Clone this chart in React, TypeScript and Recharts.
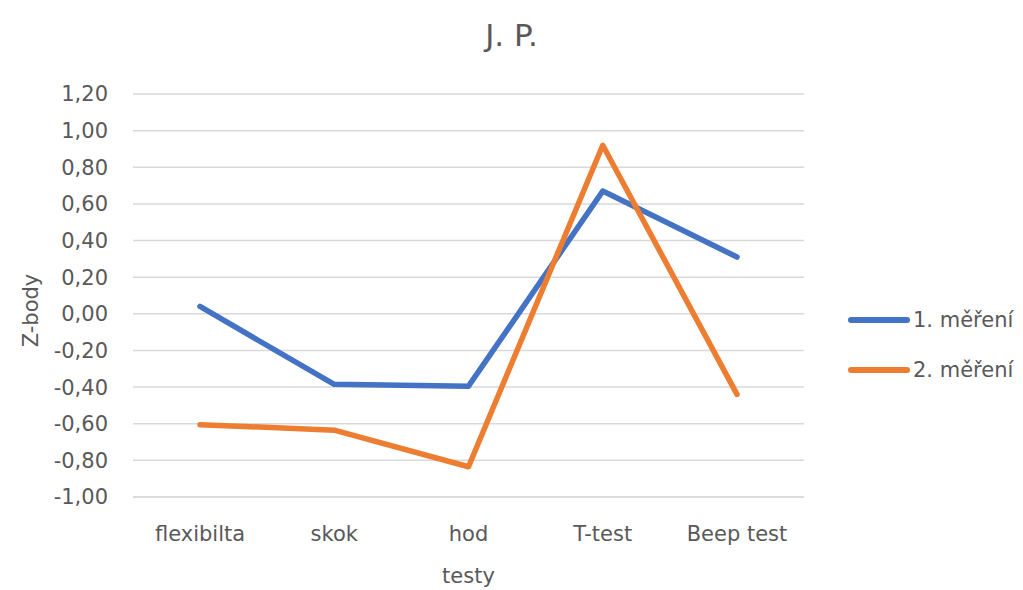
import React from 'react';
import { LineChart, Line, XAxis, YAxis, CartesianGrid, Legend } from 'recharts';

// Test categories (x axis)
const categories = ['flexibilta', 'skok', 'hod', 'T-test', 'Beep test'];
// Z-scores of the first and second measurement
const mereni1 = [0.04, -0.385, -0.395, 0.67, 0.31];
const mereni2 = [-0.605, -0.635, -0.835, 0.92, -0.44];
// Y axis ticks
const yTicks = [-1.0, -0.8, -0.6, -0.4, -0.2, 0.0, 0.2, 0.4, 0.6, 0.8, 1.0, 1.2];

const seriesNames = ['1. měření', '2. měření'];
const seriesColors = ['#4472C4', '#ED7D31'];

const data = categories.map((name, i) => ({
  name,
  m1: mereni1[i],
  m2: mereni2[i],
}));

const FONT = '"DejaVu Sans", sans-serif';
const TEXT = '#595959';

const fmt = (v: number) => v.toFixed(2).replace('.', ',');

const LegendContent = (props: any) => {
  const payload = props.payload || [];
  return (
    <div style={{ fontFamily: FONT, fontSize: 21, color: TEXT }}>
      {payload.map((p: any, i: number) => (
        <div
          key={i}
          style={{ display: 'flex', alignItems: 'center', height: 40, marginBottom: i === 0 ? 10 : 0 }}
        >
          <svg width={62} height={8} style={{ display: 'block' }}>
            <line x1={3} y1={4} x2={59} y2={4} stroke={p.color} strokeWidth={6} strokeLinecap="round" />
          </svg>
          <span style={{ marginLeft: 3, whiteSpace: 'nowrap' }}>{p.value}</span>
        </div>
      ))}
    </div>
  );
};

export default function App() {
  return (
    <div style={{ position: 'absolute', left: 0, top: 0, width: 1023, height: 590, background: '#fff' }}>
      <div
        style={{
          position: 'absolute',
          left: 0,
          top: 17,
          width: 1023,
          textAlign: 'center',
          fontFamily: FONT,
          fontSize: 31,
          color: TEXT,
          lineHeight: 'normal',
        }}
      >
        J. P.
      </div>
      <LineChart
        width={1023}
        height={590}
        data={data}
        margin={{ top: 94, right: 219, bottom: 3, left: 10 }}
      >
        <CartesianGrid vertical={false} stroke="#d9d9d9" strokeWidth={1.5} />
        <XAxis
          dataKey="name"
          padding={{ left: 67, right: 67 }}
          height={90}
          axisLine={{ stroke: '#d9d9d9', strokeWidth: 1.5 }}
          tickLine={false}
          tickMargin={23}
          tick={{ fill: TEXT, fontSize: 21, fontFamily: FONT }}
          label={{ value: 'testy', position: 'insideBottom', offset: 4, fill: TEXT, fontSize: 21, fontFamily: FONT }}
        />
        <YAxis
          width={123}
          domain={[-1, 1.2]}
          ticks={yTicks}
          interval={0}
          axisLine={false}
          tickLine={false}
          tickMargin={19}
          tickFormatter={fmt}
          tick={{ fill: TEXT, fontSize: 21, fontFamily: FONT }}
          label={{
            content: (lp: any) => {
              const vb = lp.viewBox || { x: 10, y: 94, width: 123, height: 403 };
              const x = vb.x + 28;
              const y = vb.y + vb.height / 2 + 15;
              return (
                <text
                  x={x}
                  y={y}
                  transform={`rotate(-90 ${x} ${y})`}
                  textAnchor="middle"
                  fill={TEXT}
                  fontSize={21}
                  fontFamily={FONT}
                >
                  Z-body
                </text>
              );
            },
          }}
        />
        <Legend
          layout="vertical"
          align="center"
          verticalAlign="middle"
          width={180}
          wrapperStyle={{ left: 848, top: 300 }}
          content={<LegendContent />}
        />
        <Line
          type="linear"
          dataKey="m1"
          name={seriesNames[0]}
          stroke={seriesColors[0]}
          strokeWidth={5.5}
          strokeLinecap="round"
          strokeLinejoin="round"
          dot={false}
          activeDot={false}
          isAnimationActive={false}
        />
        <Line
          type="linear"
          dataKey="m2"
          name={seriesNames[1]}
          stroke={seriesColors[1]}
          strokeWidth={5.5}
          strokeLinecap="round"
          strokeLinejoin="round"
          dot={false}
          activeDot={false}
          isAnimationActive={false}
        />
      </LineChart>
    </div>
  );
}
